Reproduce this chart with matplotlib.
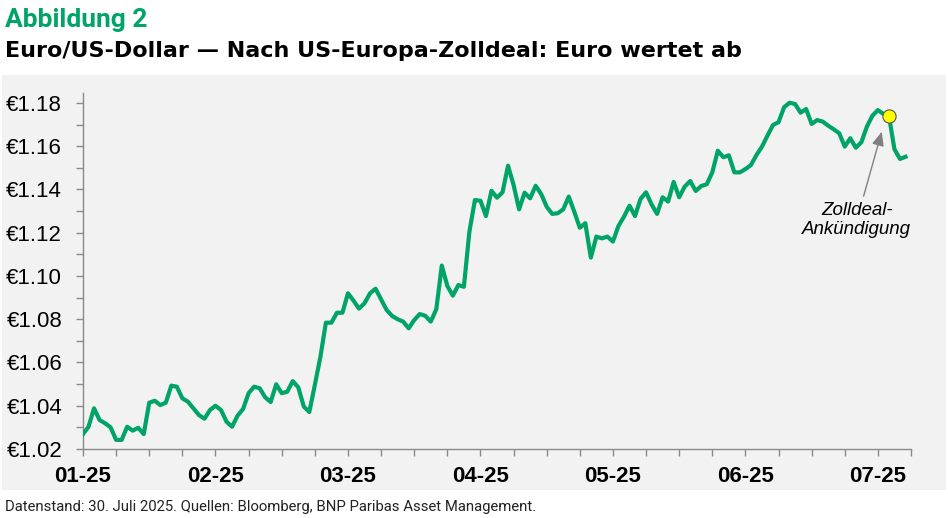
import numpy as np
import matplotlib
matplotlib.use("Agg")
import matplotlib.pyplot as plt
from matplotlib.patches import Rectangle
from matplotlib.ticker import FixedLocator, MultipleLocator, FuncFormatter

# EUR/USD, Handelstage ab Anfang Januar 2025
kurs = [
    1.0269, 1.0303, 1.0388, 1.0334, 1.0319, 1.0300, 1.0242, 1.0242, 1.0303, 1.0285,
    1.0298, 1.0269, 1.0414, 1.0423, 1.0403, 1.0414, 1.0493, 1.0488, 1.0434, 1.0419,
    1.0388, 1.0357, 1.0340, 1.0380, 1.0400, 1.0380, 1.0326, 1.0303, 1.0354, 1.0385,
    1.0458, 1.0488, 1.0481, 1.0439, 1.0417, 1.0499, 1.0458, 1.0465, 1.0514, 1.0485,
    1.0396, 1.0371, 1.0496, 1.0625, 1.0784, 1.0784, 1.0830, 1.0830, 1.0920, 1.0886,
    1.0849, 1.0874, 1.0920, 1.0941, 1.0892, 1.0843, 1.0815, 1.0800, 1.0789, 1.0758,
    1.0796, 1.0824, 1.0816, 1.0789, 1.0846, 1.1048, 1.0954, 1.0909, 1.0958, 1.0950,
    1.1205, 1.1351, 1.1348, 1.1277, 1.1394, 1.1362, 1.1387, 1.1510, 1.1421, 1.1308,
    1.1385, 1.1359, 1.1417, 1.1379, 1.1320, 1.1287, 1.1290, 1.1308, 1.1367, 1.1297,
    1.1223, 1.1244, 1.1085, 1.1182, 1.1174, 1.1182, 1.1159, 1.1231, 1.1274, 1.1325,
    1.1277, 1.1356, 1.1387, 1.1331, 1.1287, 1.1364, 1.1344, 1.1435, 1.1364, 1.1413,
    1.1439, 1.1393, 1.1416, 1.1424, 1.1479, 1.1579, 1.1549, 1.1558, 1.1479, 1.1479,
    1.1494, 1.1513, 1.1559, 1.1598, 1.1649, 1.1698, 1.1711, 1.1780, 1.1801, 1.1795,
    1.1755, 1.1772, 1.1703, 1.1721, 1.1714, 1.1695, 1.1678, 1.1660, 1.1598, 1.1637,
    1.1593, 1.1618, 1.1690, 1.1741, 1.1767, 1.1749, 1.1741, 1.1586, 1.1541, 1.1551,
]
monat_labels = ["01-25", "02-25", "03-25", "04-25", "05-25", "06-25", "07-25"]
deal_idx = 146

gruen = "#00a467"
grau_bg = "#f2f2f2"
achse = "#8a8a8a"

fig = plt.figure(figsize=(9.48, 5.18), dpi=100)
hinter = Rectangle((2 / 948, 28 / 518), 944 / 948, 415 / 518,
                   transform=fig.transFigure, facecolor=grau_bg,
                   edgecolor="none", zorder=-10)
fig.add_artist(hinter)

ax = fig.add_axes([83 / 948, 1 - 449 / 518, 828 / 948, 356 / 518])
ax.set_facecolor(grau_bg)

x = np.arange(len(kurs))
ax.plot(x, kurs, color=gruen, lw=3, solid_joinstyle="round", zorder=3)
ax.plot(x[deal_idx], kurs[deal_idx], "o", ms=9.5, mfc="#ffff00", mec="#555555",
        mew=0.8, zorder=4)

ax.annotate("Zolldeal-\nAnkündigung", xy=(144.7, 1.1667), xytext=(140.2, 1.1259),
            ha="center", va="center", fontsize=13.5, style="italic",
            family=["Liberation Sans", "DejaVu Sans"], linespacing=1.2,
            arrowprops=dict(arrowstyle="-|>,head_length=0.7,head_width=0.3",
                            mutation_scale=12, color="#808080", lw=1,
                            shrinkA=2, shrinkB=0))

ax.set_xlim(0, 150)
ax.set_ylim(1.02, 1.1846)

ax.xaxis.set_major_locator(FixedLocator(np.arange(0, 150, 24)))
ax.xaxis.set_minor_locator(FixedLocator(np.arange(0, 151, 6)))
ax.set_xticklabels(monat_labels)
ax.yaxis.set_major_locator(MultipleLocator(0.02))
ax.yaxis.set_minor_locator(MultipleLocator(0.01))
ax.yaxis.set_major_formatter(FuncFormatter(lambda v, p: "€{:.2f}".format(v)))

for s in ["top", "right"]:
    ax.spines[s].set_visible(False)
for s in ["left", "bottom"]:
    ax.spines[s].set_color(achse)
    ax.spines[s].set_linewidth(1.0)

ax.tick_params(which="both", color=achse, length=5, width=1)
ax.tick_params(axis="x", which="major", pad=7)
ax.tick_params(axis="y", which="major", pad=10)
for lab in ax.get_xticklabels():
    lab.set_family(["Liberation Sans", "DejaVu Sans"])
    lab.set_fontweight("bold")
    lab.set_fontsize(16)
for lab in ax.get_yticklabels():
    lab.set_family(["Liberation Sans", "DejaVu Sans"])
    lab.set_fontsize(16)

fig.text(5 / 948, 1 - 27 / 518, "Abbildung 2", color=gruen, fontsize=19,
         fontweight="bold", family=["Roboto", "DejaVu Sans"])
fig.text(5 / 948, 1 - 57 / 518,
         "Euro/US-Dollar — Nach US-Europa-Zolldeal: Euro wertet ab",
         color="black", fontsize=16, fontweight="bold", family=["DejaVu Sans"])
fig.text(5 / 948, 1 - 511 / 518,
         "Datenstand: 30. Juli 2025. Quellen: Bloomberg, BNP Paribas Asset Management.",
         color="#222222", fontsize=10.7, family=["Roboto", "DejaVu Sans"])

fig.savefig("out.png", dpi=100)
